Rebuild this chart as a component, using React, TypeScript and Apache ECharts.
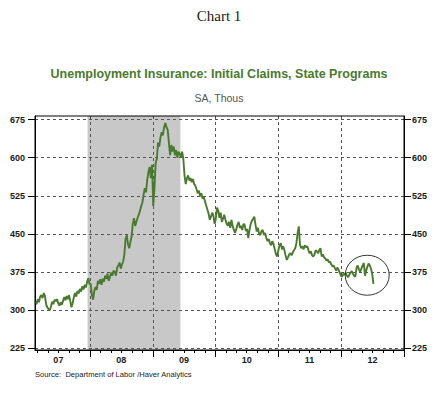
import React, { useEffect, useRef } from 'react';
import * as echarts from 'echarts';

// Weekly initial claims (thousands, SA), first week ending 2007-02-17
const firstWeek = [2007, 1, 17];
const claims2007 = [318, 312, 322, 316, 327, 330, 324, 334, 328, 311, 306, 302, 300, 308, 317, 312, 321, 318, 322, 314, 309, 316, 311, 318, 326, 320, 328, 322, 330, 318, 306, 314, 326, 334, 327, 338, 333, 342, 337, 347, 341, 350, 345, 356, 363, 352];
const claims2008 = [352, 330, 321, 338, 346, 340, 358, 352, 361, 350, 362, 356, 368, 362, 372, 358, 366, 374, 368, 378, 376, 368, 384, 388, 394, 382, 390, 396, 410, 440, 448, 430, 422, 434, 445, 470, 481, 466, 474, 482, 488, 496, 505, 512, 528, 540, 532, 556, 572, 582, 560, 586];
const claims2009 = [505, 540, 590, 598, 630, 622, 640, 650, 644, 660, 668, 660, 655, 630, 605, 625, 612, 622, 605, 615, 600, 612, 608, 600, 612, 598, 565, 548, 560, 565, 555, 560, 552, 558, 548, 545, 538, 530, 535, 524, 530, 520, 522, 515, 506, 498, 490, 478, 484, 492, 486, 470];
const claims2010 = [480, 502, 496, 482, 492, 474, 480, 488, 478, 470, 466, 474, 462, 478, 466, 458, 452, 460, 468, 474, 462, 466, 458, 470, 468, 456, 460, 442, 458, 470, 476, 480, 484, 468, 455, 462, 450, 448, 456, 458, 448, 452, 442, 436, 440, 432, 428, 436, 430, 420, 410, 406];
const claims2011 = [418, 428, 432, 420, 426, 418, 408, 399, 404, 410, 412, 408, 414, 418, 422, 432, 452, 465, 428, 422, 426, 420, 428, 424, 426, 418, 412, 416, 408, 406, 410, 418, 416, 412, 418, 422, 406, 410, 404, 402, 398, 400, 394, 396, 390, 386, 388, 383, 378, 384, 380, 374, 368];
const claims2012 = [366, 372, 370, 374, 368, 365, 370, 374, 377, 372, 368, 366, 384, 388, 380, 376, 382, 388, 393, 368, 378, 386, 392, 388, 382, 372, 352];

const yTicks = [225, 300, 375, 450, 525, 600, 675];
const years = [2007, 2008, 2009, 2010, 2011, 2012];
const yearLabels = ['07', '08', '09', '10', '11', '12'];
const recession = [[2007, 11, 18], [2009, 5, 10]];
const xRange = [[2007, 1, 15], [2013, 0, 1]];
const yRange = [222, 682];
const circledPoint = [[2012, 5, 1], 369];

const mainTitle = 'Chart 1';
const chartTitle = 'Unemployment Insurance: Initial Claims, State Programs';
const subTitle = 'SA, Thous';
const sourceText = 'Source:  Department of Labor /Haver Analytics';

const GREEN = '#4a7a2e';

const ts = (d: number[]) => new Date(d[0], d[1], d[2]).getTime();

export default function App() {
  const ref = useRef<HTMLDivElement>(null);
  useEffect(() => {
    if (!ref.current) return;
    const chart = echarts.init(ref.current, undefined, { renderer: 'svg' });

    const values = [...claims2007, ...claims2008, ...claims2009, ...claims2010, ...claims2011, ...claims2012];
    const data = values.map((v, i) => [new Date(firstWeek[0], firstWeek[1], firstWeek[2] + 7 * i).getTime(), v]);

    const yearStarts = [...years.map((y) => new Date(y, 0, 1).getTime()), new Date(2013, 0, 1).getTime()];
    const minorTicks: number[] = [];
    years.forEach((y) => [2, 4, 6, 8, 10].forEach((m) => minorTicks.push(new Date(y, m, 1).getTime())));
    const midYears = years.map((y) => new Date(y, 6, 1).getTime());
    const labelFor = (v: number) => {
      const idx = years.indexOf(new Date(v).getFullYear());
      return idx >= 0 ? yearLabels[idx] : '';
    };

    const xMin = ts(xRange[0]);
    const xMax = ts(xRange[1]);

    const axisFont = { fontFamily: 'Liberation Sans, Arial, sans-serif', fontSize: 9, fontWeight: 'bold' as const, color: '#1a1a1a' };
    const dashed = { color: '#555', width: 1, type: [3, 3] as any };

    const baseX = { type: 'value' as const, min: xMin, max: xMax, position: 'bottom' as const, z: 2, scale: true };

    chart.setOption({
      animation: false,
      backgroundColor: '#ffffff',
      grid: { left: 35, right: 44, top: 116, bottom: 44, show: true, borderColor: '#000', borderWidth: 1, backgroundColor: 'transparent', z: 4 },
      xAxis: [
        {
          ...baseX,
          axisLine: { show: true, lineStyle: { color: '#000', width: 1 } },
          axisTick: { show: true, customValues: yearStarts, length: 7, lineStyle: { color: '#000', width: 1 } },
          axisLabel: { show: false },
          splitLine: { show: true, lineStyle: dashed },
        },
        {
          ...baseX,
          axisLine: { show: false },
          axisTick: { show: true, customValues: minorTicks, length: 3, lineStyle: { color: '#000', width: 1 } },
          axisLabel: { show: false },
          splitLine: { show: false },
        },
        {
          ...baseX,
          axisLine: { show: false },
          axisTick: { show: false },
          axisLabel: { show: true, customValues: midYears, formatter: labelFor, margin: 5, ...axisFont },
          splitLine: { show: false },
        },
      ],
      yAxis: [
        {
          type: 'value', min: yRange[0], max: yRange[1], position: 'left', z: 2,
          axisLine: { show: true, lineStyle: { color: '#000', width: 1 } },
          axisTick: { show: true, customValues: yTicks, length: 7, lineStyle: { color: '#000', width: 1 } },
          axisLabel: { show: true, customValues: yTicks, margin: 10, ...axisFont },
          splitLine: { show: true, lineStyle: dashed },
        },
        {
          type: 'value', min: yRange[0], max: yRange[1], position: 'right', z: 2,
          axisLine: { show: true, lineStyle: { color: '#000', width: 1 } },
          axisTick: { show: true, customValues: yTicks, length: 7, lineStyle: { color: '#000', width: 1 } },
          axisLabel: { show: true, customValues: yTicks, margin: 8, ...axisFont },
          splitLine: { show: false },
        },
      ],
      series: [
        {
          type: 'line', xAxisIndex: 0, yAxisIndex: 0, data: [], z: 1, silent: true,
          markArea: {
            silent: true, z: 1,
            itemStyle: { color: '#c8c8c8' },
            data: [[{ xAxis: ts(recession[0]) }, { xAxis: ts(recession[1]) }]],
          },
        },
        {
          type: 'line', xAxisIndex: 0, yAxisIndex: 0, data, z: 3,
          showSymbol: false, symbol: 'none',
          lineStyle: { color: GREEN, width: 1.9 },
        },
      ],
    });

    const c = chart.convertToPixel({ xAxisIndex: 0, yAxisIndex: 0 }, [ts(circledPoint[0] as number[]), circledPoint[1] as number]) as number[];

    chart.setOption({
      graphic: [
        { type: 'text', x: 219, y: 16, style: { text: mainTitle, font: '15px "Liberation Serif", "Times New Roman", serif', fill: '#1a1a1a', align: 'center', verticalAlign: 'middle', textAlign: 'center', textVerticalAlign: 'middle' } as any },
        { type: 'text', x: 219, y: 74, style: { text: chartTitle, font: 'bold 12.5px "Liberation Sans", Arial, sans-serif', fill: GREEN, align: 'center', verticalAlign: 'middle', textAlign: 'center', textVerticalAlign: 'middle' } as any },
        { type: 'text', x: 219, y: 98, style: { text: subTitle, font: '10.5px "Liberation Sans", Arial, sans-serif', fill: '#555', align: 'center', verticalAlign: 'middle', textAlign: 'center', textVerticalAlign: 'middle' } as any },
        { type: 'text', x: 35, y: 374, style: { text: sourceText, font: '7.6px "Liberation Sans", Arial, sans-serif', fill: '#1a1a1a', align: 'left', verticalAlign: 'middle', textAlign: 'left', textVerticalAlign: 'middle' } as any },
        { type: 'ellipse', z: 10, shape: { cx: c[0], cy: c[1], rx: 22, ry: 20 }, style: { fill: 'none', stroke: '#333', lineWidth: 1 } },
      ],
    });

    return () => chart.dispose();
  }, []);

  return <div ref={ref} style={{ position: 'fixed', left: 0, top: 0, width: 448, height: 394, background: '#fff' }} />;
}
